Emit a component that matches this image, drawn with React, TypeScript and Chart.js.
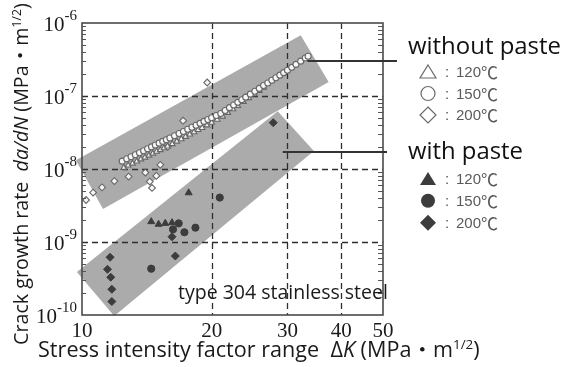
import React, { useEffect, useRef } from 'react';
import { Chart, registerables } from 'chart.js';
Chart.register(...registerables);

// ---- data (ΔK in MPa·m^1/2, da/dN in m/cycle) ----
const openCircleK = [12.4, 12.7, 13.0, 13.3, 13.6, 13.9, 14.2, 14.5, 14.8, 15.1, 15.4, 15.7, 16.0, 16.4, 16.8, 17.2, 17.6, 18.0, 18.4, 18.8, 19.2, 19.6, 20.0, 20.5, 21.0, 21.5, 22.0, 22.5, 23.0, 23.5, 24.0, 24.6, 25.2, 25.8, 26.4, 27.0, 27.6, 28.2, 28.8, 29.4, 30.0, 30.7, 31.4, 32.2, 33.0, 33.5];
const openCircleRate = [1.28e-8, 1.38e-8, 1.47e-8, 1.57e-8, 1.67e-8, 1.78e-8, 1.89e-8, 2.01e-8, 2.13e-8, 2.26e-8, 2.39e-8, 2.52e-8, 2.66e-8, 2.86e-8, 3.06e-8, 3.27e-8, 3.50e-8, 3.73e-8, 3.97e-8, 4.22e-8, 4.49e-8, 4.76e-8, 5.04e-8, 5.41e-8, 5.77e-8, 6.34e-8, 6.92e-8, 7.54e-8, 8.19e-8, 8.90e-8, 9.64e-8, 1.06e-7, 1.16e-7, 1.27e-7, 1.39e-7, 1.51e-7, 1.64e-7, 1.78e-7, 1.93e-7, 2.09e-7, 2.25e-7, 2.47e-7, 2.71e-7, 3.00e-7, 3.31e-7, 3.50e-7];

const openTriangleK = [12.5, 12.8, 13.1, 13.4, 13.7, 14.0, 14.3, 14.6, 14.9, 15.2, 15.5, 15.8, 16.2, 16.6, 17.0, 17.4, 17.8, 18.2, 18.6, 19.0, 19.5, 20.0, 20.6, 21.2, 21.8, 22.4, 23.0, 23.7, 24.4, 25.1, 25.8, 26.4];
const openTriangleRate = [1.04e-8, 1.12e-8, 1.19e-8, 1.27e-8, 1.36e-8, 1.44e-8, 1.53e-8, 1.63e-8, 1.73e-8, 1.82e-8, 1.93e-8, 2.04e-8, 2.20e-8, 2.38e-8, 2.57e-8, 2.77e-8, 2.98e-8, 3.20e-8, 3.43e-8, 3.67e-8, 3.98e-8, 4.33e-8, 4.75e-8, 5.25e-8, 5.90e-8, 6.61e-8, 7.36e-8, 8.34e-8, 9.40e-8, 1.06e-7, 1.18e-7, 1.31e-7];

const openDiamondK = [10.22, 10.61, 11.13, 11.89, 12.83, 14.03, 14.37, 14.54, 14.88, 15.20, 15.81, 17.17, 19.53];
const openDiamondRate = [3.76e-9, 4.75e-9, 5.60e-9, 6.83e-9, 7.87e-9, 8.93e-9, 6.73e-9, 5.51e-9, 8.05e-9, 1.14e-8, 2.01e-8, 4.59e-8, 1.53e-7];

const filledTriangleK = [14.48, 15.06, 15.61, 16.18, 17.69];
const filledTriangleRate = [1.90e-9, 1.75e-9, 1.80e-9, 1.84e-9, 4.72e-9];

const filledCircleK = [16.27, 16.77, 17.29, 18.34, 14.48, 20.89];
const filledCircleRate = [1.49e-9, 1.80e-9, 1.36e-9, 1.57e-9, 4.31e-10, 4.06e-9];

const filledDiamondK = [11.46, 11.62, 11.66, 11.73, 11.73, 16.18, 16.47, 27.80];
const filledDiamondRate = [4.23e-10, 6.18e-10, 3.29e-10, 2.25e-10, 1.53e-10, 1.18e-9, 6.43e-10, 4.31e-8];

// scatter bands (corner points, data units)
const bandWithoutK = [9.68, 32.2, 37.4, 11.19];
const bandWithoutRate = [1.32e-8, 6.79e-7, 1.55e-7, 2.83e-9];
const bandWithK = [9.73, 28.48, 34.55, 11.88];
const bandWithRate = [3.89e-10, 6.19e-8, 1.76e-8, 9.7e-11];

// leader-line anchors (data units)
const leaderK = [33.4, 29.25];
const leaderRate = [3.0e-7, 1.7e-8];

// ticks
const xTickValues = [10, 20, 30, 40, 50];
const xGridValues = [20, 30, 40];
const yTickExponents = [-10, -9, -8, -7, -6];
const yGridValues = [1e-9, 1e-8, 1e-7];

const legendGroups = ['without paste', 'with paste'];
const legendTemps = ['120', '150', '200'];

const SANS = '"Open Sans", "Noto Sans CJK JP", sans-serif';
const SERIF = '"Liberation Serif", "DejaVu Serif", serif';
const GRAY_TXT = '#5a5a5a';

type Seg = { t: string; it?: boolean; sup?: boolean };

function segFont(s: Seg, size: number) {
  const sz = s.sup ? size * 0.62 : size;
  return `${s.it ? 'italic ' : ''}${sz}px ${SANS}`;
}
function segsWidth(ctx: CanvasRenderingContext2D, segs: Seg[], size: number) {
  let w = 0;
  for (const s of segs) {
    ctx.font = segFont(s, size);
    w += ctx.measureText(s.t).width;
  }
  return w;
}
function drawSegs(ctx: CanvasRenderingContext2D, segs: Seg[], x: number, y: number, size: number) {
  ctx.textAlign = 'left';
  ctx.textBaseline = 'alphabetic';
  let cx = x;
  for (const s of segs) {
    ctx.font = segFont(s, size);
    ctx.fillText(s.t, cx, s.sup ? y - size * 0.38 : y);
    cx += ctx.measureText(s.t).width;
  }
}

function marker(ctx: CanvasRenderingContext2D, kind: string, x: number, y: number, filled: boolean) {
  ctx.beginPath();
  if (kind === 'tri') {
    ctx.moveTo(x, y - 7);
    ctx.lineTo(x + 8, y + 6);
    ctx.lineTo(x - 8, y + 6);
    ctx.closePath();
  } else if (kind === 'cir') {
    ctx.arc(x, y, 7, 0, Math.PI * 2);
  } else {
    ctx.moveTo(x, y - 8);
    ctx.lineTo(x + 8, y);
    ctx.lineTo(x, y + 8);
    ctx.lineTo(x - 8, y);
    ctx.closePath();
  }
  if (filled) {
    ctx.fillStyle = '#3c3c3c';
    ctx.fill();
  } else {
    ctx.strokeStyle = '#6a6a6a';
    ctx.lineWidth = 1.2;
    ctx.stroke();
  }
}

const decorPlugin = {
  id: 'decor',
  beforeDatasetsDraw(chart: any) {
    const { ctx, chartArea: a, scales } = chart;
    const xs = scales.x, ys = scales.y;
    ctx.save();
    // bands
    ctx.fillStyle = '#ababab';
    for (const [ks, rs] of [[bandWithoutK, bandWithoutRate], [bandWithK, bandWithRate]] as number[][][]) {
      ctx.beginPath();
      ks.forEach((k, i) => {
        const px = xs.getPixelForValue(k), py = ys.getPixelForValue(rs[i]);
        if (i === 0) ctx.moveTo(px, py); else ctx.lineTo(px, py);
      });
      ctx.closePath();
      ctx.fill();
    }
    // dashed grid
    ctx.strokeStyle = '#2e2e2e';
    ctx.lineWidth = 1.3;
    ctx.setLineDash([6, 4]);
    for (const v of xGridValues) {
      const px = Math.round(xs.getPixelForValue(v)) + 0.5;
      ctx.beginPath(); ctx.moveTo(px, a.top); ctx.lineTo(px, a.bottom); ctx.stroke();
    }
    for (const v of yGridValues) {
      const py = Math.round(ys.getPixelForValue(v)) + 0.5;
      ctx.beginPath(); ctx.moveTo(a.left, py); ctx.lineTo(a.right, py); ctx.stroke();
    }
    ctx.setLineDash([]);
    ctx.restore();
  },
  afterDatasetsDraw(chart: any) {
    const { ctx, chartArea: a, scales } = chart;
    const xs = scales.x, ys = scales.y;
    ctx.save();
    // minor ticks on y axes
    ctx.strokeStyle = '#555';
    ctx.lineWidth = 1;
    for (let e = -10; e < -6; e++) {
      for (let m = 2; m <= 9; m++) {
        const py = Math.round(ys.getPixelForValue(m * Math.pow(10, e))) + 0.5;
        ctx.beginPath();
        ctx.moveTo(a.left, py); ctx.lineTo(a.left + 4, py);
        ctx.moveTo(a.right, py); ctx.lineTo(a.right - 5, py);
        ctx.stroke();
      }
    }
    // frame
    ctx.strokeStyle = '#4a4a4a';
    ctx.lineWidth = 1.6;
    ctx.strokeRect(a.left, a.top, a.right - a.left, a.bottom - a.top);

    // leader lines
    ctx.strokeStyle = '#333';
    ctx.lineWidth = 2;
    const ends = [a.right + 14, a.right + 4];
    leaderK.forEach((k, i) => {
      const px = xs.getPixelForValue(k), py = Math.round(ys.getPixelForValue(leaderRate[i]));
      ctx.beginPath(); ctx.moveTo(px, py); ctx.lineTo(ends[i], py); ctx.stroke();
    });

    // x tick labels
    ctx.fillStyle = '#1a1a1a';
    ctx.font = `21px ${SERIF}`;
    ctx.textAlign = 'center';
    ctx.textBaseline = 'alphabetic';
    for (const v of xTickValues) ctx.fillText(String(v), xs.getPixelForValue(v), a.bottom + 22);

    // y tick labels 10^n
    for (const e of yTickExponents) {
      const py = ys.getPixelForValue(Math.pow(10, e));
      ctx.font = `15px ${SERIF}`;
      const ew = ctx.measureText(String(e)).width;
      ctx.font = `21px ${SERIF}`;
      const bw = ctx.measureText('10').width;
      const right = a.left - 5;
      ctx.textAlign = 'left';
      ctx.fillText('10', right - ew - bw, py + 7.5);
      ctx.font = `15px ${SERIF}`;
      ctx.fillText(String(e), right - ew, py - 3.5);
    }

    // axis titles
    ctx.fillStyle = '#1a1a1a';
    const xt: Seg[] = [{ t: 'Stress intensity factor range  Δ' }, { t: 'K', it: true }, { t: ' (MPa・m' }, { t: '1/2', sup: true }, { t: ')' }];
    const xtSize = 20 * 442 / segsWidth(ctx, xt, 20);
    drawSegs(ctx, xt, 38, 357, xtSize);

    const yt: Seg[] = [{ t: 'Crack growth rate  ' }, { t: 'da/dN', it: true }, { t: ' (MPa・m' }, { t: '1/2', sup: true }, { t: ')' }];
    const ytSize = 20 * 342 / segsWidth(ctx, yt, 20);
    ctx.save();
    ctx.translate(28, 345);
    ctx.rotate(-Math.PI / 2);
    drawSegs(ctx, yt, 0, 0, ytSize);
    ctx.restore();

    // annotation inside plot
    const tt: Seg[] = [{ t: 'type 304 stainless steel' }];
    drawSegs(ctx, tt, a.left + 96, a.bottom - 16, 17 * 210 / segsWidth(ctx, tt, 17));

    // legend
    const lx = a.right + 25;
    const gBase = [54, 159];
    const rowsY = [[72, 93.5, 115], [179, 200.7, 222.7]];
    const kinds = ['tri', 'cir', 'dia'];
    legendGroups.forEach((g, gi) => {
      ctx.fillStyle = '#111';
      const gs: Seg[] = [{ t: g }];
      const target = gi === 0 ? 153 : 115;
      drawSegs(ctx, gs, lx, gBase[gi], 20 * target / segsWidth(ctx, gs, 20));
      legendTemps.forEach((t, ti) => {
        const cy = rowsY[gi][ti];
        marker(ctx, kinds[ti], lx + 20, cy, gi === 1);
        ctx.fillStyle = GRAY_TXT;
        ctx.font = `15px "Liberation Sans", sans-serif`;
        ctx.textAlign = 'left';
        ctx.textBaseline = 'middle';
        ctx.fillText(':', lx + 37, cy + 1);
        ctx.fillText(t, lx + 48, cy + 1);
        const tw = ctx.measureText(t).width;
        ctx.font = `17px "Noto Sans CJK JP", sans-serif`;
        ctx.fillText('℃', lx + 48 + tw, cy + 1);
      });
    });
    ctx.restore();
  },
};

export default function App() {
  const ref = useRef<HTMLCanvasElement | null>(null);
  useEffect(() => {
    const pts = (ks: number[], rs: number[]) => ks.map((k, i) => ({ x: k, y: rs[i] }));
    const openStyle = { backgroundColor: '#f6f6f6', borderColor: '#666666', borderWidth: 1.1 };
    const fillStyle = { backgroundColor: '#3c3c3c', borderColor: '#3c3c3c', borderWidth: 1 };
    const chart = new Chart(ref.current!, {
      type: 'scatter',
      data: {
        datasets: [
          { label: 'without paste 150℃', data: pts(openCircleK, openCircleRate), pointStyle: 'circle', pointRadius: 3, ...openStyle },
          { label: 'without paste 120℃', data: pts(openTriangleK, openTriangleRate), pointStyle: 'triangle', pointRadius: 3.3, ...openStyle },
          { label: 'without paste 200℃', data: pts(openDiamondK, openDiamondRate), pointStyle: 'rectRot', pointRadius: 3.4, ...openStyle },
          { label: 'with paste 120℃', data: pts(filledTriangleK, filledTriangleRate), pointStyle: 'triangle', pointRadius: 4, ...fillStyle },
          { label: 'with paste 150℃', data: pts(filledCircleK, filledCircleRate), pointStyle: 'circle', pointRadius: 3.6, ...fillStyle },
          { label: 'with paste 200℃', data: pts(filledDiamondK, filledDiamondRate), pointStyle: 'rectRot', pointRadius: 4, ...fillStyle },
        ],
      },
      options: {
        animation: false,
        responsive: false,
        devicePixelRatio: 1,
        layout: { padding: { left: 82, right: 188, top: 23, bottom: 52 } },
        plugins: { legend: { display: false }, tooltip: { enabled: false } },
        scales: {
          x: { type: 'logarithmic', min: 10, max: 50, display: false },
          y: { type: 'logarithmic', min: 1e-10, max: 1e-6, display: false },
        },
      },
      plugins: [decorPlugin],
    });
    return () => chart.destroy();
  }, []);
  return (
    <div style={{ position: 'fixed', left: 0, top: 0, width: 571, height: 367, background: '#fff' }}>
      <canvas ref={ref} width={571} height={367} />
    </div>
  );
}
